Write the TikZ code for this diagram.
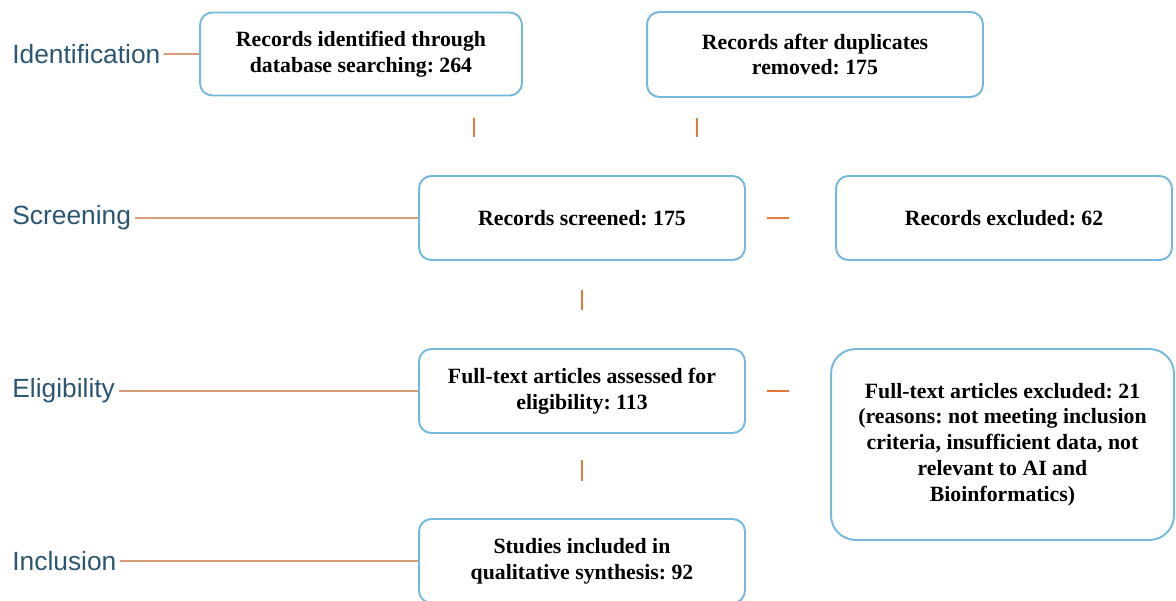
\documentclass[tikz,border=0pt]{standalone}
\usepackage{fontspec}
\setmainfont{Liberation Serif}
\newfontfamily\stagefont{Liberation Sans}
\definecolor{boxblue}{HTML}{74B8DC}
\definecolor{tickorange}{HTML}{E2783A}
\definecolor{stageline}{HTML}{D99A7A}
\definecolor{stageblue}{HTML}{2B5671}
\frenchspacing

\begin{document}
\begin{tikzpicture}
  [x=0.02cm,y=-0.02cm,
   box/.style={draw=boxblue,line width=1.1pt,rounded corners=7pt,align=center,
     minimum width=6.52cm,minimum height=1.68cm,inner sep=0pt,
     font=\fontsize{12.4}{14.7}\selectfont\bfseries},
   stage/.style={anchor=west,text=stageblue,inner sep=2pt,
     font=\stagefont\fontsize{15}{18}\selectfont},
   link/.style={draw=stageline,line width=0.7pt},
   tick/.style={draw=tickorange,line width=1.4pt}]
  \useasboundingbox (0,0) rectangle (1176,601);

  \node[box,minimum width=6.44cm,minimum height=1.66cm] (ident) at (361,54) {Records identified through\\database searching: 264};
  \node[box,minimum width=6.72cm,minimum height=1.7cm] (dedup) at (815,54.5) {Records after duplicates\\removed: 175};
  \node[box] (screen) at (582,218) {Records screened: 175};
  \node[box,minimum width=6.72cm] (excl1) at (1004,218) {Records excluded: 62};
  \node[box] (elig) at (582,391) {Full-text articles assessed for\\eligibility: 113};
  \node[box,minimum width=6.86cm,minimum height=3.82cm,rounded corners=14pt] (excl2) at (1002.5,444.5) {Full-text articles excluded: 21\\(reasons: not meeting inclusion\\criteria, insufficient data, not\\relevant to AI and\\Bioinformatics)};
  \node[box] (incl) at (582,561) {Studies included in\\qualitative synthesis: 92};

  \node[stage] (identlab) at (8.5,54) {Identification};
  \node[stage] (screenlab) at (8.5,218) {Screening};
  \node[stage] (eliglab) at (8.5,391) {Eligibility};
  \node[stage] (incllab) at (8.5,561) {Inclusion};

  \foreach \from/\to in {identlab/ident,screenlab/screen,eliglab/elig,incllab/incl}
    \draw[link] (\from) -- (\to);

  \coordinate (t1a) at (474,118); \coordinate (t1b) at (474,137);
  \coordinate (t2a) at (697,118); \coordinate (t2b) at (697,137);
  \coordinate (t3a) at (767,218); \coordinate (t3b) at (789,218);
  \coordinate (t4a) at (582,290); \coordinate (t4b) at (582,310);
  \coordinate (t5a) at (767,391); \coordinate (t5b) at (789,391);
  \coordinate (t6a) at (582,460); \coordinate (t6b) at (582,481);

  \foreach \from/\to in {t1a/t1b,t2a/t2b,t3a/t3b,t4a/t4b,t5a/t5b,t6a/t6b}
    \draw[tick] (\from) -- (\to);

\end{tikzpicture}
\end{document}
